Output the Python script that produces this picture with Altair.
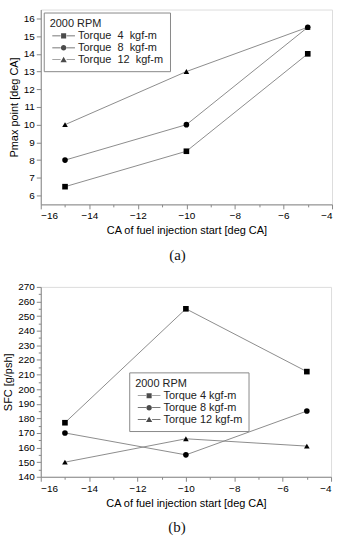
import altair as alt
import pandas as pd

# Start of fuel injection [deg CA]
inj_start = [-15, -10, -5]

# (a) crank angle of peak pressure [deg CA]
labels_a = ["Torque\u00a0 4\u00a0 kgf-m", "Torque\u00a0 8\u00a0 kgf-m", "Torque\u00a0 12\u00a0 kgf-m"]
pmax_t4 = [6.5, 8.5, 14.0]
pmax_t8 = [8.0, 10.0, 15.5]
pmax_t12 = [10.0, 13.0, 15.5]

# (b) specific fuel consumption [g/psh]
labels_b = ["Torque 4 kgf-m", "Torque 8 kgf-m", "Torque 12 kgf-m"]
sfc_t4 = [177, 255, 212]
sfc_t8 = [170, 155, 185]
sfc_t12 = [150, 166, 161]

x_ticks = list(range(-16, -3))
y_ticks_a = [v / 2 for v in range(12, 33)]
y_ticks_b = list(range(140, 271, 5))

MARKERS = ["square", "circle", "triangle-up"]
# legend keys: a thin bar on each side of the marker (unit = 3 px)
BARS = "M-3.8,-0.12H-1V0.12H-3.8ZM1,-0.12H3.8V0.12H1Z"
KEY_PATHS = [
    BARS + "M-0.85,-0.85H0.85V0.85H-0.85Z",
    BARS + "M0.92,0A0.92,0.92,0,1,1,-0.92,0A0.92,0.92,0,1,1,0.92,0Z",
    BARS + "M0,-1L1.05,0.82H-1.05Z",
]

FONT = "Liberation Sans"


def frame(labels, series):
    rows = []
    for lab, vals in zip(labels, series):
        for x, y in zip(inj_start, vals):
            rows.append({"series": lab, "x": x, "y": y})
    return pd.DataFrame(rows)


def panel(df, labels, ytitle, ydomain, yticks, ymajor, width, height, lx, ly, caption):
    xenc = alt.X(
        "x:Q",
        scale=alt.Scale(domain=[-16, -4], nice=False, zero=False),
        axis=alt.Axis(
            title="CA of fuel injection start [deg CA]",
            titleFontWeight="normal",
            grid=False,
            values=x_ticks,
            labelExpr="datum.value % 2 === 0 ? datum.label : ''",
            tickSize={"condition": {"test": "datum.value % 2 !== 0", "value": 2.5}, "value": 4.5},
            format="d",
        ),
    )
    yenc = alt.Y(
        "y:Q",
        scale=alt.Scale(domain=ydomain, nice=False, zero=False),
        axis=alt.Axis(
            title=ytitle,
            titleFontWeight="normal",
            grid=False,
            values=yticks,
            labelExpr=f"datum.value % {ymajor} === 0 ? datum.label : ''",
            tickSize={"condition": {"test": f"datum.value % {ymajor} !== 0", "value": 2.5}, "value": 4.5},
            format="d",
        ),
    )
    base = alt.Chart(df)
    lines = base.mark_line(color="#808080", strokeWidth=0.9).encode(
        x=xenc, y=yenc, detail="series:N"
    )
    points = base.mark_point(filled=True, color="black", opacity=1).encode(
        x=xenc,
        y=yenc,
        shape=alt.Shape("series:N", sort=labels,
                        scale=alt.Scale(domain=labels, range=MARKERS), legend=None),
        size=alt.value(32),
    )
    key = base.mark_point(filled=True, color="black", clip=True).encode(
        x=alt.value(-60),
        y=alt.value(-60),
        shape=alt.Shape(
            "series:N",
            sort=labels,
            scale=alt.Scale(domain=labels, range=KEY_PATHS),
            legend=alt.Legend(
                title="2000 RPM",
                orient="none",
                legendX=lx,
                legendY=ly,
                titleFont=FONT,
                titleFontSize=11,
                titleFontWeight="normal",
                titleColor="#222",
                titlePadding=1,
                labelFont=FONT,
                labelFontSize=11,
                labelColor="#222",
                labelOffset=9,
                symbolOffset=8.5,
                symbolSize=36,
                symbolFillColor="black",
                rowPadding=-2,
                padding=6,
                strokeColor="#888",
                fillColor="white",
                cornerRadius=0,
            ),
        ),
    )
    return (
        alt.layer(lines, points, key)
        .resolve_scale(shape="independent")
        .properties(
            width=width,
            height=height,
            title=alt.TitleParams(
                caption, orient="bottom", anchor="middle", font="Liberation Serif",
                fontSize=15, fontWeight="normal", color="#111", offset=12, dx=-9,
            ),
        )
    )


df_a = frame(labels_a, [pmax_t4, pmax_t8, pmax_t12])
df_b = frame(labels_b, [sfc_t4, sfc_t8, sfc_t12])

chart_a = panel(df_a, labels_a, "Pmax point [deg CA]", [5.5, 16.5], y_ticks_a, 1,
                293, 196, 3, 3, "(a)")
chart_b = panel(df_b, labels_b, "SFC [g/psh]", [140, 270], y_ticks_b, 10,
                292, 191, 89, 86, "(b)")

chart = (
    alt.vconcat(chart_a, chart_b, spacing=18)
    .properties(padding={"left": 2, "top": 7, "right": 4, "bottom": 2})
    .configure_view(stroke="#666", strokeWidth=1)
    .configure_axis(
        domainColor="#111",
        domainWidth=1.3,
        tickColor="#111",
        tickWidth=1,
        grid=False,
        labelFont=FONT,
        labelFontSize=8,
        labelColor="#333",
        labelPadding=2,
        titleFont=FONT,
        titleFontSize=10.5,
        titleFontWeight="normal",
        titleColor="#222",
        titlePadding=5,
    )
    .configure_axisY(titlePadding=6)
    .configure(background="white")
)

chart.save("out.html", embed_options={"renderer": "svg", "actions": False})
